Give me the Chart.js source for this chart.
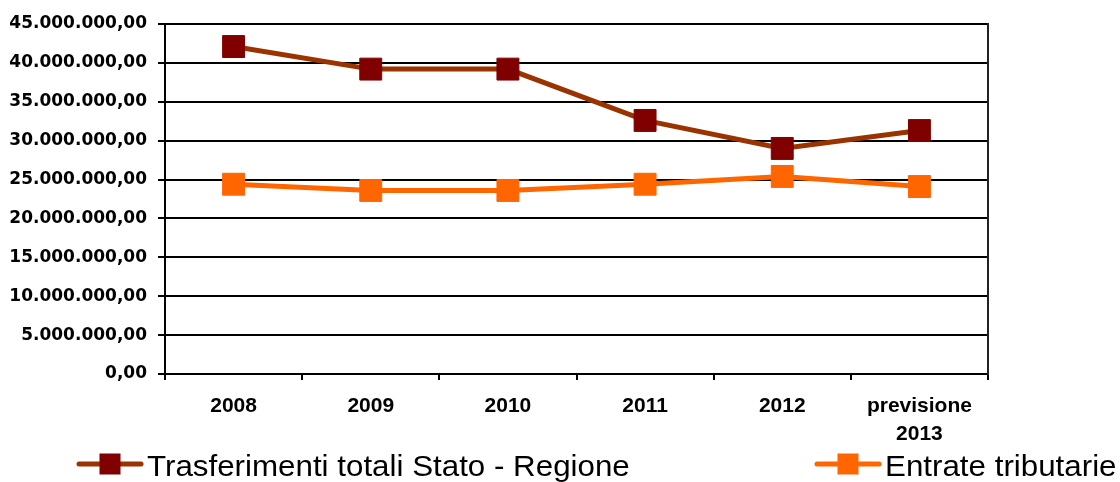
<!DOCTYPE html>
<html>
<head>
<meta charset="utf-8">
<title>Trasferimenti Stato - Regione / Entrate tributarie</title>
<script src="https://cdn.jsdelivr.net/npm/chart.js"></script>
<style>
  html, body { margin: 0; padding: 0; background: #fff; }
  #wrap { width: 1120px; height: 482px; }
</style>
</head>
<body>
<div id="wrap"><canvas id="trend_chart" width="1120" height="482"></canvas></div>
<script>

// dati
var anni = ["2008", "2009", "2010", "2011", "2012", ["previsione", "2013"]];
var trasferimenti = [42100000, 39200000, 39200000, 32600000, 29000000, 31300000];
var entrate = [24400000, 23600000, 23600000, 24400000, 25400000, 24100000];
var serie_nomi = ["Trasferimenti totali Stato - Regione", "Entrate tributarie"];
var y_min = 0;
var y_max = 45000000;
var y_step = 5000000;

// 45000000 -> "45.000.000,00"
function formato(v) {
  var s = Math.round(v).toString().replace(/\B(?=(\d{3})+(?!\d))/g, ".");
  return s + ",00";
}

// legenda stile excel (linea + quadrato), sotto il grafico
var legenda_excel = {
  id: "legenda_excel",
  afterDraw: function(chart) {
    var ctx = chart.ctx;
    var start_x = [77, 815];
    var cy = 464;
    ctx.save();
    chart.data.datasets.forEach(function(ds, i) {
      var x = start_x[i];
      ctx.strokeStyle = ds.borderColor;
      ctx.lineWidth = 5;
      ctx.lineCap = "round";
      ctx.beginPath();
      ctx.moveTo(x + 2, cy);
      ctx.lineTo(x + 64, cy);
      ctx.stroke();
      ctx.fillStyle = ds.pointBackgroundColor;
      ctx.fillRect(x + 33 - 10.5, cy - 10.5, 21, 21);

      ctx.save();
      ctx.translate(x + 70, 475.5);
      ctx.scale(1.08, 1);
      ctx.fillStyle = "#000";
      ctx.font = '29px "Liberation Sans", Arial, sans-serif';
      ctx.textBaseline = "alphabetic";
      ctx.fillText(ds.label, 0, 0);
      ctx.restore();
    });
    ctx.restore();
  }
};

var trend_ctx = document.getElementById("trend_chart").getContext("2d");

var trend_chart = new Chart(trend_ctx, {
  type: "line",
  data: {
    labels: anni,
    datasets: [
      {
        label: serie_nomi[0],
        data: trasferimenti,
        borderColor: "#993300",
        borderWidth: 5,
        tension: 0,
        pointStyle: "rect",
        pointRadius: 15.5,
        pointBackgroundColor: "#800000",
        pointBorderColor: "#800000",
        pointBorderWidth: 1
      },
      {
        label: serie_nomi[1],
        data: entrate,
        borderColor: "#FF6600",
        borderWidth: 5,
        tension: 0,
        pointStyle: "rect",
        pointRadius: 15.5,
        pointBackgroundColor: "#FF6600",
        pointBorderColor: "#FF6600",
        pointBorderWidth: 1
      }
    ]
  },
  options: {
    responsive: false,
    animation: false,
    devicePixelRatio: 1,
    layout: { padding: { left: 0, right: 132, top: 24, bottom: 40 } },
    plugins: {
      legend: { display: false },
      tooltip: { enabled: false }
    },
    scales: {
      x: {
        offset: true,
        grid: {
          offset: true,
          drawOnChartArea: false,
          drawTicks: true,
          tickLength: 6,
          color: "#000",
          lineWidth: 2
        },
        border: { color: "#000", width: 2 },
        ticks: {
          color: "#000",
          padding: 12,
          maxRotation: 0,
          autoSkip: false,
          font: { family: '"Liberation Sans", Arial, sans-serif', size: 21, weight: "bold", lineHeight: "28px" }
        },
        afterFit: function(scale) { scale.height = 68; }
      },
      y: {
        min: y_min,
        max: y_max,
        ticks: {
          stepSize: y_step,
          color: "#000",
          padding: 11,
          callback: function(v) { return formato(v); },
          font: { family: '"DejaVu Sans", sans-serif', size: 17, weight: "bold" }
        },
        grid: { color: "#000", lineWidth: 2, tickLength: 7 },
        border: { color: "#000", width: 2 },
        afterFit: function(scale) { scale.width = 165; }
      },
      // bordo destro dell'area del grafico
      y_bordo: {
        position: "right",
        display: true,
        ticks: { display: false },
        grid: { display: false },
        border: { color: "#222", width: 2 },
        afterFit: function(scale) { scale.width = 0; }
      }
    }
  },
  plugins: [legenda_excel]
});

</script>
</body>
</html>
